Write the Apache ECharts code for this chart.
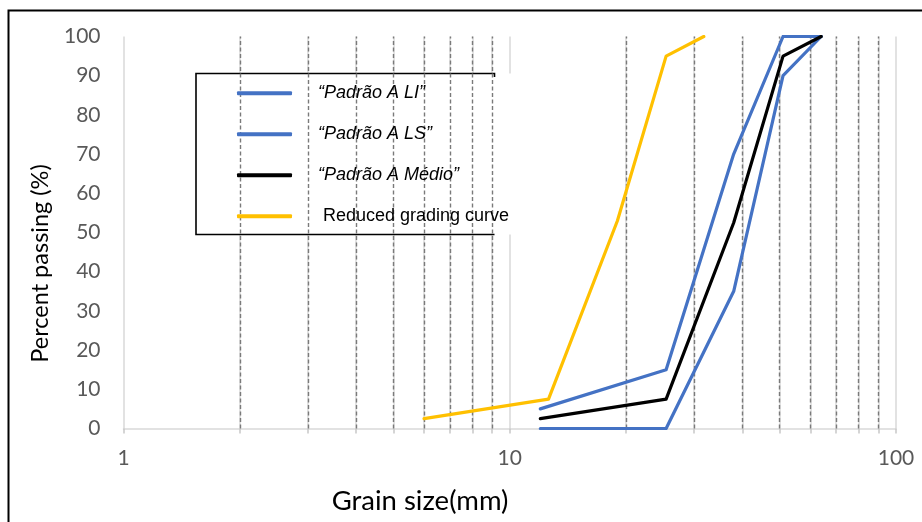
<!DOCTYPE html>
<html>
<head>
<meta charset="utf-8">
<script src="https://cdn.jsdelivr.net/npm/echarts@6/dist/echarts.min.js"></script>
<style>
  html, body { margin: 0; padding: 0; background: #fff; }
  #chart { width: 922px; height: 522px; }
</style>
</head>
<body>
<div id="chart"></div>
<script>
  // grain sizes (mm) and percent passing
  const sizeLimits = [12, 25.4, 38, 51, 64];
  const passLI = [0, 0, 35, 90, 100];
  const passLS = [5, 15, 70, 100, 100];
  const passMedio = [2.5, 7.5, 52.5, 95, 100];
  const sizeReduced = [6, 12.6, 19, 25.4, 31.8];
  const passReduced = [2.5, 7.5, 53, 95, 100];

  const minorSizes = [2, 3, 4, 5, 6, 7, 8, 9, 20, 30, 40, 50, 60, 70, 80, 90];
  const tickSizes = [1, 2, 3, 4, 5, 6, 7, 8, 9, 10, 20, 30, 40, 50, 60, 70, 80, 90, 100];
  const seriesNames = ['\u201cPadrão A LI\u201d', '\u201cPadrão A LS\u201d', '\u201cPadrão A Médio\u201d', ' Reduced grading curve'];

  function pairs(xs, ys) {
    return xs.map((x, i) => [x, ys[i]]);
  }

  const BLUE = '#4472C4';
  const labelFont = 'Lato, "Open Sans", sans-serif';

  function lineSeries(name, data, color, extra) {
    return Object.assign({
      name: name,
      type: 'line',
      data: data,
      symbol: 'none',
      lineStyle: { color: color, width: 3.2, cap: 'round', join: 'round' },
      itemStyle: { color: color },
      z: 5
    }, extra || {});
  }

  const option = {
    animation: false,
    grid: { left: 123.5, right: 26, top: 36.5, bottom: 93.5 },
    xAxis: {
      type: 'log',
      logBase: 10,
      min: 1,
      max: 100,
      axisLine: { show: true, lineStyle: { color: '#d9d9d9', width: 1.5 } },
      axisTick: { show: true, customValues: tickSizes, length: 5, lineStyle: { color: '#c8c8c8', width: 1.5 } },
      axisLabel: { color: '#595959', fontSize: 21, fontFamily: labelFont, margin: 19 },
      splitLine: { show: true, lineStyle: { color: '#d9d9d9', width: 1.5 } },
      minorTick: { show: false },
      minorSplitLine: { show: false }
    },
    yAxis: {
      type: 'value',
      min: 0,
      max: 100,
      interval: 10,
      axisLine: { show: false },
      axisTick: { show: false },
      splitLine: { show: false },
      axisLabel: { color: '#595959', fontSize: 21, fontFamily: labelFont, margin: 23 }
    },
    legend: {
      orient: 'vertical',
      left: 237,
      top: 83.3,
      padding: 0,
      icon: 'roundRect',
      itemWidth: 55,
      itemHeight: 4,
      itemGap: 21,
      z: 6,
      textStyle: {
        fontFamily: '"Liberation Sans", Arial, sans-serif',
        fontSize: 18,
        lineHeight: 20,
        color: '#000',
        padding: [0, 0, 0, 21]
      },
      data: [
        { name: seriesNames[0], textStyle: { fontStyle: 'italic' } },
        { name: seriesNames[1], textStyle: { fontStyle: 'italic' } },
        { name: seriesNames[2], textStyle: { fontStyle: 'italic' } },
        { name: seriesNames[3] }
      ]
    },
    graphic: [
      {
        type: 'rect',
        shape: { x: 8.5, y: 10.5, width: 1000, height: 700 },
        style: { fill: 'none', stroke: '#000', lineWidth: 2 },
        z: 10
      },
      {
        type: 'rect',
        shape: { x: 196, y: 73.5, width: 318, height: 161 },
        style: { fill: '#fff' },
        z: 3
      },
      {
        type: 'polyline',
        shape: { points: [[494.5, 77], [494.5, 73.5], [196, 73.5], [196, 234.5], [494.5, 234.5]] },
        style: { fill: 'none', stroke: '#000', lineWidth: 1.6 },
        z: 4
      },
      {
        type: 'text',
        x: 40,
        y: 263.5,
        rotation: Math.PI / 2,
        style: {
          text: 'Percent passing (%)',
          fontFamily: labelFont,
          fontSize: 23.5,
          fill: '#000',
          align: 'center',
          verticalAlign: 'middle'
        },
        z: 10
      },
      {
        type: 'text',
        x: 420,
        y: 501,
        style: {
          text: 'Grain size(mm)',
          fontFamily: labelFont,
          fontSize: 27.5,
          fill: '#000',
          align: 'center',
          verticalAlign: 'middle'
        },
        z: 10
      }
    ],
    series: [
      lineSeries(seriesNames[0], pairs(sizeLimits, passLI), BLUE, {
        markLine: {
          silent: true,
          symbol: 'none',
          label: { show: false },
          lineStyle: { color: '#7a7a7a', width: 1.4, type: [4, 2.5] },
          data: minorSizes.map(v => ({ xAxis: v }))
        }
      }),
      lineSeries(seriesNames[1], pairs(sizeLimits, passLS), BLUE),
      lineSeries(seriesNames[2], pairs(sizeLimits, passMedio), '#000000'),
      lineSeries(seriesNames[3], pairs(sizeReduced, passReduced), '#FFC000')
    ]
  };

  const chart = echarts.init(document.getElementById('chart'));
  chart.setOption(option);
</script>
</body>
</html>
